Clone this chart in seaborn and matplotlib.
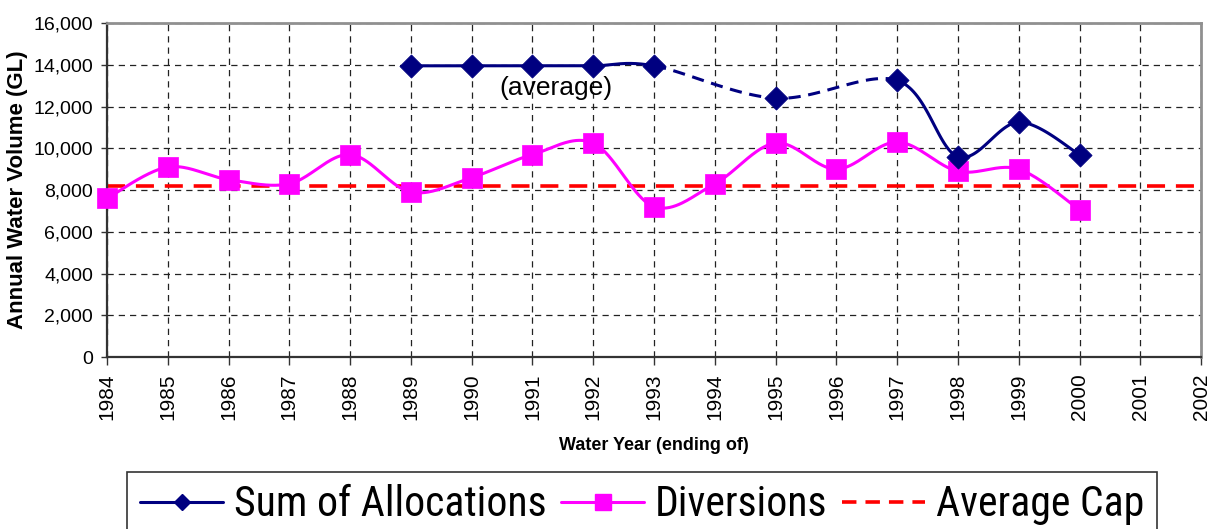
import numpy as np
import pandas as pd
import seaborn as sns
import matplotlib.pyplot as plt
from matplotlib.lines import Line2D
from matplotlib.ticker import StrMethodFormatter
from matplotlib import font_manager as fm

# Valores (GL)
YEARS = list(range(1984, 2003))
DATA_YEARS = list(range(1984, 2001))
DIVERSIONS = [7600, 9100, 8500, 8300, 9700, 7900, 8600, 9700, 10250,
              7200, 8300, 10250, 9000, 10300, 8900, 9000, 7050]
ALLOCATIONS = [None, None, None, None, None, 13950, 13950, 13950, 13950,
               13950, None, 12400, None, 13250, 9600, 11250, 9700]
AVERAGE_CAP = 8200
DASHED_SPAN = (1993, 1997)  # trecho estimado, tracejado
LEGEND_LABELS = ['Sum of Allocations', 'Diversions', 'Average Cap']

NAVY = '#000080'
MAGENTA = '#FF00FF'
RED = '#FF0000'


def smooth(xs, ys, n=40):
    # curva suavizada estilo Excel (bezier com tangentes dos vizinhos)
    pts = np.column_stack([xs, ys]).astype(float)
    p = np.vstack([pts[0], pts, pts[-1]])
    out = []
    t = np.linspace(0, 1, n)[:, None]
    for i in range(1, len(p) - 2):
        p0, p1, p2, p3 = p[i - 1], p[i], p[i + 1], p[i + 2]
        c1 = p1 + (p2 - p0) / 6
        c2 = p2 - (p3 - p1) / 6
        seg = (1 - t) ** 3 * p1 + 3 * (1 - t) ** 2 * t * c1 + 3 * (1 - t) * t ** 2 * c2 + t ** 3 * p2
        out.append(seg if i == 1 else seg[1:])
    return np.vstack(out)


sns.set_theme(style="ticks")
plt.rcParams['font.family'] = ['Liberation Sans', 'DejaVu Sans']
plt.rcParams.update({'text.color': 'black', 'axes.labelcolor': 'black',
                     'xtick.color': 'black', 'ytick.color': 'black'})

# fonte estreita para a legenda, se houver
installed = {f.name for f in fm.fontManager.ttflist}
legend_family = 'Liberation Sans'
for name in ['Liberation Sans Narrow', 'Roboto Condensed', 'Arial Narrow']:
    if name in installed:
        legend_family = name
        break

df = pd.DataFrame({'year': DATA_YEARS, 'div': DIVERSIONS,
                   'alloc': pd.array(ALLOCATIONS, dtype='Float64')})
alloc = df.dropna(subset=['alloc'])

fig = plt.figure(figsize=(12.12, 5.29), dpi=100)
ax = fig.add_axes([0.0883, 0.325, 0.991 - 0.0883, 0.9565 - 0.325])

ax.axhline(AVERAGE_CAP, color=RED, lw=2.6, linestyle=(0, (5, 3)), zorder=2)

# Diversions
curve = smooth(df['year'], df['div'])
sns.lineplot(x=curve[:, 0], y=curve[:, 1], sort=False, estimator=None,
             color=MAGENTA, lw=2.2, ax=ax, zorder=3)
sns.scatterplot(x=df['year'], y=df['div'], marker='s', s=190, color=MAGENTA,
                edgecolor=MAGENTA, linewidth=0.5, ax=ax, zorder=4, clip_on=False)

# Sum of Allocations
curve = smooth(alloc['year'].to_numpy(), alloc['alloc'].to_numpy(dtype=float))
cx, cy = curve[:, 0], curve[:, 1]
a, b = DASHED_SPAN
for mask, ls in [(cx <= a, '-'), ((cx >= a) & (cx <= b), (0, (4, 2.5))), (cx >= b, '-')]:
    sns.lineplot(x=cx[mask], y=cy[mask], sort=False, estimator=None,
                 color=NAVY, lw=2.2, linestyle=ls, ax=ax, zorder=5)
sns.scatterplot(x=alloc['year'], y=alloc['alloc'].astype(float), marker='D', s=140,
                color=NAVY, edgecolor=NAVY, linewidth=0.5, ax=ax, zorder=6, clip_on=False)

ax.text(1991.39, 12900, '(average)', fontsize=19, ha='center', va='center', zorder=7)

ax.set_xlim(YEARS[0], YEARS[-1])
ax.set_ylim(0, 16000)
ax.set_xticks(YEARS)
ax.set_xticklabels([str(y) for y in YEARS], rotation=90, fontsize=15)
ax.set_yticks(range(0, 16001, 2000))
ax.yaxis.set_major_formatter(StrMethodFormatter('{x:,.0f}'))
ax.tick_params(axis='y', labelsize=14, length=4, width=1, pad=6, color='#333333')
ax.tick_params(axis='x', length=6, width=1, pad=6, color='#333333')

ax.grid(True, color='#222222', linestyle=(0, (5, 4)), linewidth=0.9)
ax.set_axisbelow(True)
for side in ['top', 'right']:
    ax.spines[side].set_color('#909090')
    ax.spines[side].set_linewidth(2)
ax.spines['left'].set_color('#333333')
ax.spines['left'].set_linewidth(1.6)
ax.spines['bottom'].set_color('#333333')
ax.spines['bottom'].set_linewidth(1.6)

ax.set_xlabel('Water Year (ending of)', fontsize=13, fontweight='bold', labelpad=12)
ax.set_ylabel('Annual Water Volume (GL)', fontsize=16, fontweight='bold', labelpad=4)

handles = [
    Line2D([], [], color=NAVY, lw=2.2, marker='D', markersize=8),
    Line2D([], [], color=MAGENTA, lw=2.2, marker='s', markersize=11),
    Line2D([], [], color=RED, lw=2.6, linestyle=(0, (4, 2.5))),
]


def make_legend(size):
    lg = fig.legend(handles, LEGEND_LABELS,
                    loc='upper left', bbox_to_anchor=(0.105, 0.108), ncol=3,
                    frameon=True, fancybox=False, edgecolor='black',
                    prop={'family': legend_family, 'size': size},
                    handlelength=2.0, handletextpad=0.25, columnspacing=0.35,
                    borderpad=0.3, borderaxespad=0)
    lg.get_frame().set_linewidth(1.2)
    return lg


# ajusta o tamanho para a largura da legenda original (~1028 px)
size = 30
leg = make_legend(size)
fig.canvas.draw()
width = leg.get_window_extent().width
leg.remove()
size = min(34, size * 1028 / width)
leg = make_legend(size)

fig.savefig('out.png', dpi=100)
